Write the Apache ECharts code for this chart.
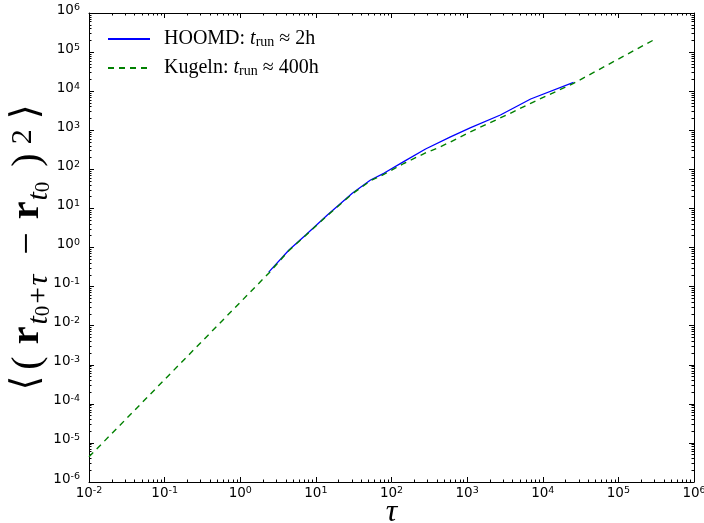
<!DOCTYPE html>
<html><head><meta charset="utf-8">
<script src="https://cdn.jsdelivr.net/npm/echarts@6/dist/echarts.min.js"></script>
<style>html,body{margin:0;padding:0;background:#fff}#c{width:704px;height:523px}</style>
</head><body><div id="c"></div>
<script>
// ---- data ----
const xMajorTicks = [0.01, 0.1, 1, 10, 100, 1000, 1e4, 1e5, 1e6];
const yMajorTicks = [1e-6, 1e-5, 1e-4, 1e-3, 1e-2, 1e-1, 1, 10, 100, 1e3, 1e4, 1e5, 1e6];
const seriesNames = ['HOOMD', 'Kugeln'];
const legendRuntimes = ['2h', '400h'];
const hoomdTau = [2.38, 4.41, 7.33, 14.2, 30.3, 52.8, 79.1, 145, 282, 603, 1096, 2754, 6918, 25530];
const hoomdMsd = [0.234, 0.861, 2.09, 6.76, 24.3, 53.3, 79.1, 157, 331, 676, 1148, 2455, 6310, 16830];
const kugelnTau = [0.01, 2.38, 4.41, 7.33, 14.2, 30.3, 52.8, 79.1, 145, 282, 401, 603, 1104, 3724, 6918, 25530, 86100, 321000];
const kugelnMsd = [4.4e-6, 0.22, 0.84, 2.04, 6.6, 23.5, 51, 74, 141, 263, 347, 501, 912, 2710, 4900, 15850, 56750, 225000];

function pairs(a, b) { return a.map((v, i) => [v, b[i]]); }
function minorTicks(majors) {
  const out = [];
  for (let i = 0; i < majors.length - 1; i++) for (let k = 2; k <= 9; k++) out.push(+(majors[i] * k).toPrecision(3));
  return out;
}
function expLabel(v) { const e = Math.round(Math.log10(v)); return '{b|10}{e|' + e + '}'; }

const tickRich = {
  b: { fontFamily: 'DejaVu Sans', fontSize: 13.5, color: '#000', lineHeight: 20, verticalAlign: 'top' },
  e: { fontFamily: 'DejaVu Sans', fontSize: 9.5, color: '#000', lineHeight: 9, verticalAlign: 'top' }
};
const serif = "'Liberation Serif','DejaVu Serif',serif";

function makeAxes(dim, majors, min, max) {
  const posA = dim === 'x' ? 'bottom' : 'left';
  const posB = dim === 'x' ? 'top' : 'right';
  const minors = minorTicks(majors);
  const base = { type: 'log', logBase: 10, min: min, max: max, splitLine: { show: false }, nameMoveOverlap: false };
  const line = { show: true, lineStyle: { color: '#000', width: 1 } };
  const major = { show: true, inside: true, length: 5, customValues: majors, lineStyle: { color: '#000', width: 1 } };
  const minor = { show: true, inside: true, length: 2.5, customValues: minors, lineStyle: { color: '#000', width: 1 } };
  const main = Object.assign({}, base, {
    position: posA, axisLine: line, axisTick: major,
    axisLabel: { show: true, customValues: majors, formatter: expLabel, margin: dim === 'x' ? 4 : 9, rich: tickRich, hideOverlap: false }
  });
  return [
    main,
    Object.assign({}, base, { position: posA, axisLine: { show: false }, axisTick: minor, axisLabel: { show: false } }),
    Object.assign({}, base, { position: posB, axisLine: line, axisTick: major, axisLabel: { show: false } }),
    Object.assign({}, base, { position: posB, axisLine: { show: false }, axisTick: minor, axisLabel: { show: false } })
  ];
}

const xAxes = makeAxes('x', xMajorTicks, xMajorTicks[0], xMajorTicks[xMajorTicks.length - 1]);
xAxes[0].name = '{t|τ}';
xAxes[0].nameLocation = 'middle';
xAxes[0].nameGap = 16;
xAxes[0].nameTextStyle = { rich: { t: { fontFamily: serif, fontStyle: 'italic', fontSize: 32, color: '#000', lineHeight: 30 } } };

const yAxes = makeAxes('y', yMajorTicks, yMajorTicks[0], yMajorTicks[yMajorTicks.length - 1]);
yAxes[0].name = '{l|⟨}{pa|(}{b|r}{s|t}{z|0}{s2|+τ}{m|−}{b2|r}{s|t}{z2|0}{pc|)}{p|2}{r|⟩}';
yAxes[0].nameLocation = 'middle';
yAxes[0].nameRotate = 90;
yAxes[0].nameGap = 35;
(function () {
  const M = { fontFamily: serif, fontSize: 40, color: '#000', lineHeight: 46, verticalAlign: 'top' };
  const A = { fontFamily: "'DejaVu Sans'", fontSize: 38, color: '#000', lineHeight: 46, verticalAlign: 'top' };
  const S = { fontFamily: serif, fontSize: 30, fontStyle: 'italic', color: '#000', lineHeight: 26, verticalAlign: 'bottom' };
  const Z = { fontFamily: serif, fontSize: 21, color: '#000', lineHeight: 18, verticalAlign: 'bottom' };
  const r = {
    l: Object.assign({}, A, { padding: [0, 6, 0, 0] }),
    pa: Object.assign({}, M, { padding: [0, 12, 0, 0] }),
    b: Object.assign({}, M, { fontWeight: 'bold', padding: [0, 2, 0, 0] }),
    b2: Object.assign({}, M, { fontWeight: 'bold', padding: [0, 1, 0, 0] }),
    s: S,
    s2: Object.assign({}, S, { padding: [0, 20, 0, 0] }),
    z: Z,
    z2: Object.assign({}, Z, { padding: [0, 15, 0, 0] }),
    m: Object.assign({}, M, { padding: [0, 13, 0, 0] }),
    pc: Object.assign({}, M, { padding: [0, 9, 0, 0] }),
    p: { fontFamily: serif, fontSize: 30, color: '#000', lineHeight: 34, verticalAlign: 'top', padding: [0, 10, 0, 0] },
    r: A
  };
  yAxes[0].nameTextStyle = { rich: r };
})();

const chart = echarts.init(document.getElementById('c'), null, { renderer: 'canvas' });
chart.setOption({
  animation: false,
  backgroundColor: '#fff',
  grid: { left: 89, right: 10, top: 13, bottom: 41, outerBoundsMode: 'none', containLabel: false },
  xAxis: xAxes,
  yAxis: yAxes,
  legend: {
    left: 107, top: 29, orient: 'vertical', itemWidth: 42, itemHeight: 4, itemGap: 9, padding: 0,
    data: seriesNames,
    formatter: function (name) {
      const i = seriesNames.indexOf(name);
      return '{a|' + name + ': }{i|t}{s|run}{a| ≈ ' + legendRuntimes[i] + '}';
    },
    textStyle: {
      padding: [0, 0, 0, 9],
      rich: {
        a: { fontFamily: serif, fontSize: 20, color: '#000', lineHeight: 20, verticalAlign: 'top' },
        i: { fontFamily: serif, fontSize: 20, fontStyle: 'italic', color: '#000', lineHeight: 20, verticalAlign: 'top' },
        s: { fontFamily: serif, fontSize: 14, color: '#000', lineHeight: 8, verticalAlign: 'bottom' }
      }
    }
  },
  series: [
    {
      name: seriesNames[0], type: 'line', xAxisIndex: 0, yAxisIndex: 0, symbol: 'none', smooth: false,
      data: pairs(hoomdTau, hoomdMsd), lineStyle: { color: '#0000ff', width: 1.3 }, itemStyle: { color: '#0000ff', opacity: 0 }, z: 3
    },
    {
      name: seriesNames[1], type: 'line', xAxisIndex: 0, yAxisIndex: 0, symbol: 'none', smooth: false,
      data: pairs(kugelnTau, kugelnMsd), lineStyle: { color: '#008000', width: 1.4, type: [6, 5] }, itemStyle: { color: '#008000', opacity: 0 }, z: 4
    }
  ]
});
</script>
</body></html>
